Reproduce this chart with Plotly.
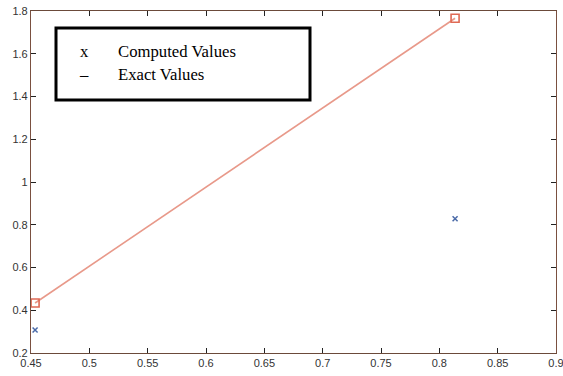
import plotly.graph_objects as go

# Sample points
x_vals = [0.4535, 0.8135]
computed_vals = [0.308, 0.828]
exact_vals = [0.434, 1.766]

x_ticks = [0.45, 0.5, 0.55, 0.6, 0.65, 0.7, 0.75, 0.8, 0.85, 0.9]
x_tick_text = ["0.45", "0.5", "0.55", "0.6", "0.65", "0.7", "0.75", "0.8", "0.85", "0.9"]
y_ticks = [0.2, 0.4, 0.6, 0.8, 1.0, 1.2, 1.4, 1.6, 1.8]
y_tick_text = ["0.2", "0.4", "0.6", "0.8", "1", "1.2", "1.4", "1.6", "1.8"]

legend_lines = ["x", "\u2013"]
legend_labels = ["Computed Values", "Exact Values"]

fig = go.Figure()

# Exact values: line with open squares
fig.add_trace(go.Scatter(
    x=x_vals, y=exact_vals, mode="lines+markers",
    line=dict(color="#e8998a", width=1.6),
    marker=dict(symbol="square-open", size=8, color="#e06a55", line=dict(width=1.6)),
    showlegend=False,
))

# Computed values: small x markers
fig.add_trace(go.Scatter(
    x=x_vals, y=computed_vals, mode="markers",
    marker=dict(symbol="x-thin-open", size=5, color="#4a6aa8", line=dict(width=1.5, color="#4a6aa8")),
    showlegend=False,
))

axis_common = dict(
    showgrid=False, zeroline=False, ticks="inside", ticklen=5, tickwidth=1,
    tickcolor="#222222", showline=True, linewidth=1.2, mirror="ticks",
    ticklabeloverflow="allow",
    tickfont=dict(family="Liberation Sans, Arial", size=11, color="#333333"),
)

fig.update_xaxes(range=[0.45, 0.9], tickvals=x_ticks, ticktext=x_tick_text,
                 linecolor="#6b4a3a", **axis_common)
fig.update_yaxes(range=[0.2, 1.8], tickvals=y_ticks, ticktext=y_tick_text,
                 linecolor="#7a5040", **axis_common)

# Boxed legend drawn as text
fig.add_shape(type="rect", xref="paper", yref="paper",
              x0=(56 - 31) / 525, x1=(310 - 31) / 525,
              y0=(353 - 100) / 342, y1=(353 - 28) / 342,
              line=dict(color="black", width=3), fillcolor="white")

for i, (sym, lab) in enumerate(zip(legend_lines, legend_labels)):
    ypix = 52 + i * 22
    yp = (353 - ypix) / 342
    fig.add_annotation(xref="paper", yref="paper", x=(84 - 31) / 525, y=yp,
                       text=sym, showarrow=False, xanchor="center", yanchor="middle",
                       font=dict(family="Liberation Serif", size=16.7, color="black"))
    fig.add_annotation(xref="paper", yref="paper", x=(116 - 31) / 525, y=yp,
                       text=lab, showarrow=False, xanchor="left", yanchor="middle",
                       font=dict(family="Liberation Serif", size=16.7, color="black"))

fig.update_layout(
    width=563, height=376,
    margin=dict(l=31, r=7, t=11, b=23, autoexpand=False),
    paper_bgcolor="white", plot_bgcolor="white",
)

fig.write_html("out.html")
